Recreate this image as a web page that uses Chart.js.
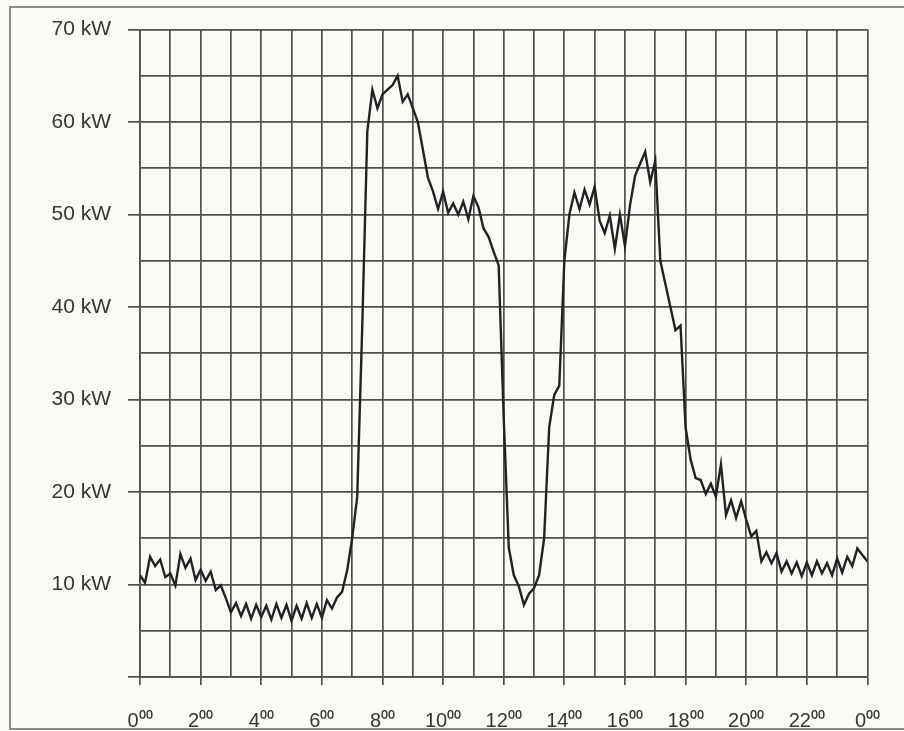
<!DOCTYPE html>
<html>
<head>
<meta charset="utf-8">
<script src="https://cdn.jsdelivr.net/npm/chart.js@4/dist/chart.umd.min.js"></script>
<style>
  body { margin: 0; background: #fbfaf7; }
  #wrap { position: relative; width: 904px; height: 731px; overflow: hidden; }
  #frame { position: absolute; left: 9px; top: 6px; width: 1000px; height: 720px;
           border: 2px solid #8d8d8d; }
  #chart { position: absolute; left: 0; top: 0; }
</style>
</head>
<body>
<div id="wrap">
  <div id="frame"></div>
  <canvas id="chart" width="904" height="731"></canvas>
</div>
<script>
// load profile, one reading every 10 minutes from 0:00 to 24:00
var stepMinutes = 10;
var kw = [
  11.0, 10.2, 13.0, 12.0, 12.7, 10.8,   // 0h
  11.2, 9.9, 13.3, 11.8, 12.8, 10.5,    // 1h
  11.6, 10.4, 11.4, 9.4, 9.9, 8.5,      // 2h
  7.0, 8.0, 6.6, 7.9, 6.3, 7.8,         // 3h
  6.5, 7.7, 6.2, 7.9, 6.4, 7.8,         // 4h
  6.1, 7.7, 6.3, 8.0, 6.4, 7.9,         // 5h
  6.4, 8.3, 7.4, 8.6, 9.2, 11.5,        // 6h
  15.0, 19.5, 38.0, 59.0, 63.5, 61.5,   // 7h
  63.0, 63.5, 64.0, 65.0, 62.2, 63.0,   // 8h
  61.5, 60.0, 57.0, 54.0, 52.5, 50.6,   // 9h
  52.5, 50.2, 51.2, 50.0, 51.4, 49.5,   // 10h
  52.0, 50.8, 48.5, 47.6, 46.0, 44.5,   // 11h
  28.0, 14.0, 11.0, 9.8, 7.8, 9.0,      // 12h
  9.6, 11.0, 15.0, 27.0, 30.5, 31.5,    // 13h
  45.0, 50.0, 52.4, 50.6, 52.7, 51.1,   // 14h
  53.0, 49.3, 48.0, 49.9, 46.3, 50.0,   // 15h
  46.6, 51.0, 54.2, 55.5, 56.8, 53.5,   // 16h
  55.8, 45.0, 42.5, 40.0, 37.5, 38.0,   // 17h
  27.0, 23.5, 21.5, 21.3, 19.8, 20.9,   // 18h
  19.5, 23.0, 17.5, 19.1, 17.2, 19.0,   // 19h
  17.0, 15.2, 15.8, 12.5, 13.5, 12.3,   // 20h
  13.4, 11.4, 12.5, 11.2, 12.4, 10.9,   // 21h
  12.4, 11.0, 12.5, 11.2, 12.3, 11.0,   // 22h
  12.8, 11.3, 13.0, 12.0, 13.9, 13.2,   // 23h
  12.5
];
var hourLabels = ['0⁰⁰', '2⁰⁰', '4⁰⁰', '6⁰⁰', '8⁰⁰', '10⁰⁰', '12⁰⁰',
                  '14⁰⁰', '16⁰⁰', '18⁰⁰', '20⁰⁰', '22⁰⁰', '0⁰⁰'];
var kwLabels = ['10 kW', '20 kW', '30 kW', '40 kW', '50 kW', '60 kW', '70 kW'];

var gridColor = '#505050';
var textColor = '#363636';

var points = kw.map(function (v, i) {
  return { x: i * stepMinutes / 60, y: v };
});

new Chart(document.getElementById('chart'), {
  type: 'line',
  data: {
    datasets: [{
      data: points,
      borderColor: '#222',
      borderWidth: 2.4,
      pointRadius: 0,
      tension: 0,
      fill: false
    }]
  },
  options: {
    responsive: false,
    animation: false,
    layout: { padding: { top: 25, right: 32, left: 0, bottom: 0 } },
    plugins: { legend: { display: false }, tooltip: { enabled: false } },
    scales: {
      x: {
        type: 'linear',
        min: 0,
        max: 24,
        afterFit: function (scale) { scale.height = 54; },
        ticks: {
          stepSize: 1,
          autoSkip: false,
          maxRotation: 0,
          padding: 24,
          color: textColor,
          font: { family: 'Liberation Sans, Arial, sans-serif', size: 20 },
          callback: function (value) {
            return value % 2 === 0 ? hourLabels[value / 2] : '';
          }
        },
        grid: {
          color: gridColor,
          lineWidth: 1.7,
          tickLength: 8,
          tickColor: function (ctx) {
            return ctx.tick && ctx.tick.value % 2 === 0 ? gridColor : 'rgba(0,0,0,0)';
          }
        },
        border: { color: gridColor, width: 1.7 }
      },
      y: {
        min: 0,
        max: 70,
        afterFit: function (scale) { scale.width = 140; },
        ticks: {
          stepSize: 5,
          padding: 17,
          color: textColor,
          font: { family: 'Liberation Sans, Arial, sans-serif', size: 21 },
          callback: function (value) {
            return value > 0 && value % 10 === 0 ? kwLabels[value / 10 - 1] : '';
          }
        },
        grid: {
          color: gridColor,
          lineWidth: 1.7,
          tickLength: 12,
          tickColor: function (ctx) {
            return ctx.tick && ctx.tick.value % 10 === 0 ? gridColor : 'rgba(0,0,0,0)';
          }
        },
        border: { color: gridColor, width: 1.7 }
      }
    }
  }
});
</script>
</body>
</html>
